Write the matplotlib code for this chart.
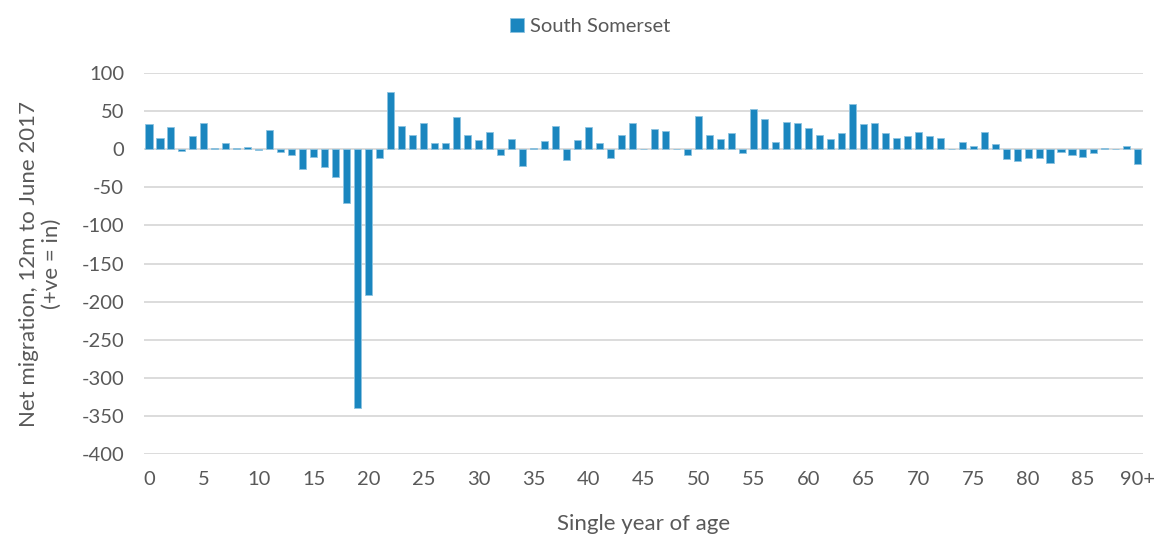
import matplotlib.pyplot as plt
import numpy as np

# Net migration by single year of age, South Somerset (12m to June 2017)
ages = list(range(91))
tick_labels = [str(a) if a < 90 else "90+" for a in range(0, 91, 5)]
net_migration = [
    33, 15, 29, -3, 17, 35, 2, 8, 1, 3,
    -1, 25, -4, -8, -26, -10, -23, -37, -71, -340,
    -191, -12, 75, 31, 18, 35, 8, 8, 42, 18,
    12, 22, -7, 13, -22, 2, 11, 30, -14, 12,
    29, 8, -11, 19, 35, 0, 26, 24, 0, -7,
    43, 19, 13, 21, -5, 53, 39, 10, 36, 35,
    28, 18, 13, 21, 59, 33, 35, 21, 15, 17,
    22, 17, 15, 0, 9, 4, 22, 7, -13, -16,
    -11, -11, -18, -4, -7, -10, -5, 2, 0, 4,
    -20,
]

bar_color = "#1a86bf"
text_color = "#595959"

plt.rcParams['font.family'] = ['Lato', 'DejaVu Sans']
plt.rcParams['axes.unicode_minus'] = False

fig = plt.figure(figsize=(11.62, 5.38), dpi=100)
ax = fig.add_axes([0.1235, 0.1561, 0.8605, 0.7082])

ax.bar(ages, net_migration, width=0.64, color=bar_color,
       edgecolor="#8cc3e0", linewidth=0.6, label="South Somerset", zorder=3)

ax.set_xlim(-0.5, 90.5)
ax.set_ylim(-400, 100)
ax.set_yticks(np.arange(-400, 101, 50))
ax.set_xticks(range(0, 91, 5))
ax.set_xticklabels(tick_labels)
ax.grid(axis='y', color="#d9d9d9", linewidth=1.3, zorder=0)
ax.tick_params(axis='both', length=0, labelsize=14.5, colors=text_color)
ax.tick_params(axis='x', pad=12)
ax.tick_params(axis='y', pad=14)
for s in ax.spines.values():
    s.set_visible(False)

ax.set_xlabel("Single year of age", fontsize=16, color=text_color, labelpad=19)
ax.set_ylabel("Net migration, 12m to June 2017\n(+ve = in)", fontsize=16,
              color=text_color, labelpad=14, linespacing=1.15)

fig.legend(loc='upper center', bbox_to_anchor=(0.508, 1.0), frameon=False,
           fontsize=14.5, labelcolor=text_color, handlelength=0.7,
           handleheight=0.7, handletextpad=0.3)

fig.savefig("out.png", dpi=100)
